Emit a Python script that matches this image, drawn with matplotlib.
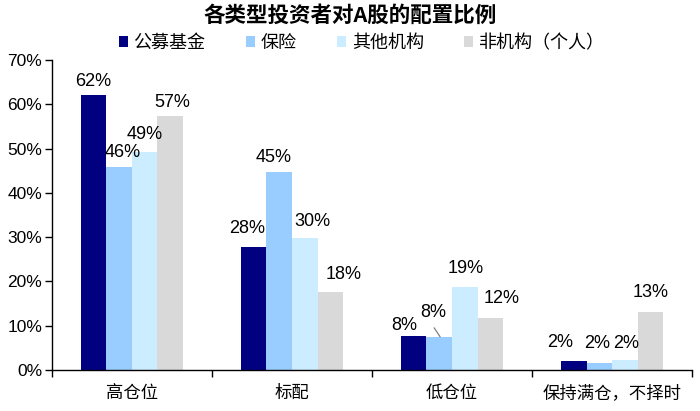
import matplotlib
matplotlib.use("Agg")
import matplotlib.pyplot as plt
import numpy as np

plt.rcParams['font.family'] = ['Noto Sans CJK SC', 'DejaVu Sans']

categories = ['高仓位', '标配', '低仓位', '保持满仓，不择时']
series_names = ['公募基金', '保险', '其他机构', '非机构（个人）']
values = {
    '公募基金': [62.2, 27.8, 7.7, 2.0],
    '保险': [45.8, 44.7, 7.5, 1.6],
    '其他机构': [49.2, 29.8, 18.8, 2.3],
    '非机构（个人）': [57.3, 17.6, 11.8, 13.1],
}
labels = {
    '公募基金': ['62%', '28%', '8%', '2%'],
    '保险': ['46%', '45%', '8%', '2%'],
    '其他机构': ['49%', '30%', '19%', '2%'],
    '非机构（个人）': ['57%', '18%', '12%', '13%'],
}
colors = ['#000080', '#99CCFF', '#CCECFF', '#D9D9D9']

fig = plt.figure(figsize=(7, 4.11), dpi=100)
ax = fig.add_axes([0.074, 0.0998, 0.915, 0.754])

x = np.arange(len(categories))
w = 0.16
offsets = [-1.5, -0.5, 0.5, 1.5]
# label offsets from bar top centre, in pixels (dx, dy up), label centred
label_adj = {
    '公募基金': [(0, 13), (-6, 18), (-9, 10), (-14, 19)],
    '保险': [(4, 15), (-6, 15), (-6, 24), (-2, 19)],
    '其他机构': [(0, 18), (8, 17), (1, 18), (1, 16)],
    '非机构（个人）': [(2, 14), (13, 18), (11, 19), (0, 19)],
}
px = 0.72  # points per pixel at dpi 100
for i, name in enumerate(series_names):
    xs = x + offsets[i] * w
    ax.bar(xs, values[name], width=w, color=colors[i], label=name, zorder=2)
    for j, (xv, v) in enumerate(zip(xs, values[name])):
        dx, dy = label_adj[name][j]
        ax.annotate(labels[name][j], (xv, v), xytext=(dx * px, dy * px),
                    textcoords='offset points', ha='center', va='center',
                    fontsize=13, family='Liberation Sans', color='black')

# leader line for 8% of 保险 in 低仓位
xi = x[2] + offsets[1] * w
v = values['保险'][2]
ax.annotate('', (xi + 0.005, v), xytext=(-6 * px, 9 * px), textcoords='offset points',
            arrowprops=dict(arrowstyle='-', color='#808080', lw=0.9, shrinkA=0, shrinkB=0))

ax.set_xlim(-0.5, 3.5)
ax.set_ylim(0, 70)
ax.set_yticks(np.arange(0, 71, 10))
ax.set_yticklabels([f'{v}%' for v in range(0, 71, 10)], family='Liberation Sans', fontsize=12.5)
ax.set_xticks(x)
ax.set_xticklabels(categories, fontsize=12.5)
ax.tick_params(axis='x', length=0, pad=10)
ax.set_xticks(np.arange(-0.5, 3.6, 1), minor=True)
ax.tick_params(axis='x', which='minor', length=5, direction='out', width=1)
ax.tick_params(axis='y', length=5, direction='out', width=1, pad=2)
for s in ['top', 'right']:
    ax.spines[s].set_visible(False)
ax.spines['left'].set_linewidth(1)
ax.spines['bottom'].set_linewidth(1)

fig.text(0.5, 1 - 15 / 411, '各类型投资者对A股的配置比例', fontsize=15.5, fontweight='bold',
         ha='center', va='center')
leg = fig.legend(loc='center', bbox_to_anchor=(0.517, 1 - 43 / 411), ncol=4, frameon=False,
                 fontsize=13, handlelength=0.5, handleheight=0.5, handletextpad=0.3,
                 columnspacing=2.25)

fig.savefig('out.png', dpi=100)
